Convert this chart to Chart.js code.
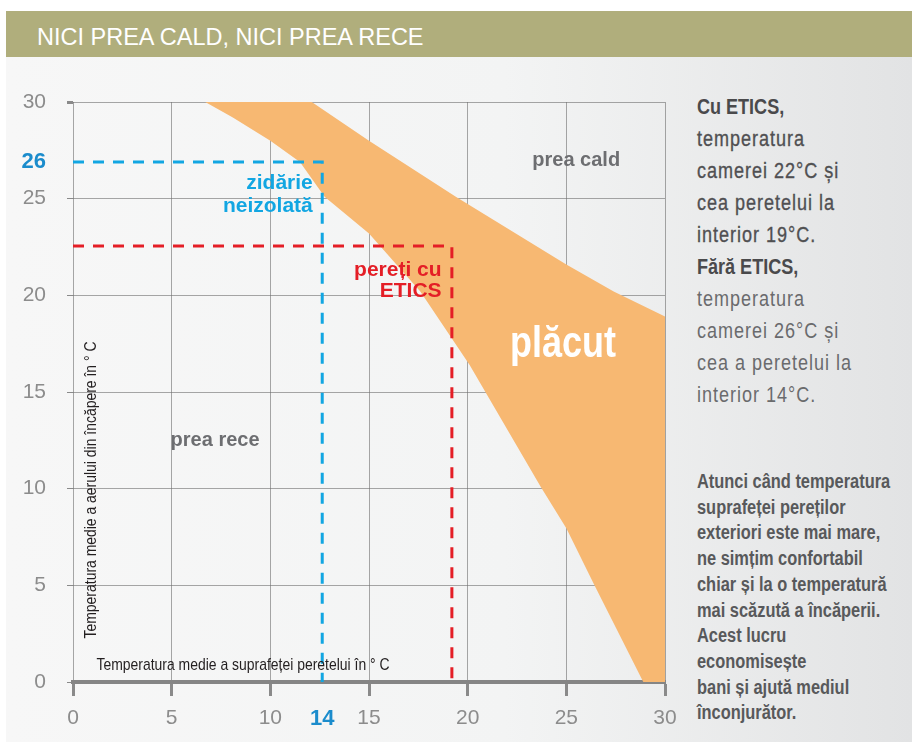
<!DOCTYPE html>
<html>
<head>
<meta charset="utf-8">
<script src="https://cdn.jsdelivr.net/npm/chart.js"></script>
<style>
  body { margin: 0; width: 912px; height: 742px; background: #fff; position: relative; overflow: hidden;
         font-family: "Liberation Sans", sans-serif; }
  #panel { position: absolute; left: 6px; top: 57px; right: 0; bottom: 0;
           background: linear-gradient(to right, #f7f7f7 0%, #f3f4f4 55%, #e2e3e4 100%); }
  #header { position: absolute; left: 6px; top: 11px; right: 0; height: 46px; background: #b0ae7c; }
  #title { position: absolute; left: 37px; top: 14px; color: #fff;
           font-size: 23.5px; line-height: 46px; white-space: nowrap; }
  #chartBox { position: absolute; left: 0; top: 0; width: 690px; height: 742px; }
  .side { position: absolute; left: 697px; white-space: nowrap; transform: scaleX(0.82); transform-origin: left top; }
  #p1 { top: 91px; line-height: 32px; font-size: 22px; }
  #p1 b { color: #4a4a4c; }
  #p1 .mid { color: #505052; letter-spacing: 1.2px; -webkit-text-stroke: 0.35px #505052; }
  #p1 .reg { color: #6a6b6d; letter-spacing: 1.2px; }
  #p2 { top: 469px; line-height: 25.7px; font-size: 20px; font-weight: bold; color: #58595b; }
</style>
</head>
<body>
<div id="panel"></div>
<div id="header"></div>
<div id="title">NICI PREA CALD, NICI PREA RECE</div>
<div id="chartBox"><canvas id="chart" width="690" height="742"></canvas></div>
<div class="side" id="p1">
  <b>Cu ETICS,</b><br>
  <span class="mid">temperatura<br>camerei 22°C și<br>cea peretelui la<br>interior 19°C.</span><br>
  <b>Fără ETICS,</b><br>
  <span class="reg">temperatura<br>camerei 26°C și<br>cea a peretelui la<br>interior 14°C.</span>
</div>
<div class="side" id="p2">
  Atunci când temperatura<br>suprafeței pereților<br>exteriori este mai mare,<br>ne simțim confortabil<br>chiar și la o temperatură<br>mai scăzută a încăperii.<br>Acest lucru<br>economisește<br>bani și ajută mediul<br>înconjurător.
</div>
<script>
// axes
const xTicks = [0, 5, 10, 15, 20, 25, 30];
const yTicks = [0, 5, 10, 15, 20, 25, 30];
const xMarkTick = 12.63, xMarkLabel = "14";
const yMarkTick = 26.9, yMarkLabel = "26";

// comfort band: upper edge (incl. bottom-right corner) and lower edge
const upperEdgeX = [12.1, 15, 19.4, 25, 27.4, 30, 30];
const upperEdgeY = [30, 28.0, 25.1, 21.6, 20.2, 18.9, 0];
const lowerEdgeX = [6.7, 8.1, 10, 11.5, 12.75, 15, 17.6, 20.1, 23.7, 25, 26.4, 28.9];
const lowerEdgeY = [30, 29.2, 28.0, 26.9, 25.1, 23.2, 20.2, 16.4, 10.1, 7.95, 5.05, 0];

// dashed guides
const plainWallX = [0, 12.63, 12.63];
const plainWallY = [26.9, 26.9, 0];
const eticsWallX = [0, 19.2, 19.2];
const eticsWallY = [22.55, 22.55, 0];

const BLUE = "#12a6e2", RED = "#e41e26", MARK = "#1b8ccc";
const SANS = '"Liberation Sans", sans-serif';

function toPoints(xs, ys) {
  return xs.map((x, i) => ({ x: x, y: ys[i] }));
}

var bandPoints = toPoints(upperEdgeX, upperEdgeY)
  .concat(toPoints(lowerEdgeX, lowerEdgeY).reverse());
bandPoints.push(bandPoints[0]);

function isMark(ctx, v) {
  return ctx.tick && ctx.tick.value === v;
}

const notes = {
  id: "notes",
  afterDraw(chart) {
    const { ctx, scales: { x, y } } = chart;
    // sx squeezes the text horizontally (no narrow font installed)
    function put(text, vx, vy, font, color, align, sx, rot) {
      ctx.save();
      ctx.translate(x.getPixelForValue(vx), y.getPixelForValue(vy));
      if (rot) ctx.rotate(rot);
      ctx.scale(sx || 1, 1);
      ctx.font = font;
      ctx.fillStyle = color;
      ctx.textAlign = align || "center";
      ctx.textBaseline = "middle";
      ctx.fillText(text, 0, 0);
      ctx.restore();
    }
    put("prea cald", 25.5, 27.0, "bold 20px " + SANS, "#6d6e71");
    put("prea rece", 7.2, 12.5, "bold 20px " + SANS, "#6d6e71");
    put("plăcut", 24.83, 17.43, "bold 45px " + SANS, "#ffffff", "center", 0.8);
    put("zidărie", 12.15, 25.8, "bold 21px " + SANS, BLUE, "right");
    put("neizolată", 12.15, 24.6, "bold 21px " + SANS, BLUE, "right");
    put("pereți cu", 18.68, 21.3, "bold 21px " + SANS, RED, "right");
    put("ETICS", 18.68, 20.2, "bold 21px " + SANS, RED, "right");
    put("Temperatura medie a suprafeței peretelui în ° C", 1.19, 0.88, "17px " + SANS, "#231f20", "left", 0.82);
    put("Temperatura medie a aerului din încăpere în ° C", 0.94, 9.93, "17px " + SANS, "#231f20", "center", 0.82, -Math.PI / 2);
  }
};

new Chart("chart", {
  type: "scatter",
  data: {
    datasets: [
      {
        data: toPoints(plainWallX, plainWallY),
        showLine: true,
        borderColor: BLUE,
        borderWidth: 3,
        borderDash: [11, 9],
        pointRadius: 0,
        fill: false,
      },
      {
        data: toPoints(eticsWallX, eticsWallY),
        showLine: true,
        borderColor: RED,
        borderWidth: 3,
        borderDash: [11, 9],
        pointRadius: 0,
        fill: false,
      },
      {
        data: bandPoints,
        showLine: true,
        borderWidth: 0,
        borderColor: "rgba(0,0,0,0)",
        backgroundColor: "#f7b872",
        pointRadius: 0,
        fill: "shape",
        order: 10,
      },
    ],
  },
  options: {
    responsive: false,
    animation: false,
    devicePixelRatio: 1,
    layout: { padding: { top: 102, left: 0, right: 25, bottom: 0 } },
    plugins: { legend: { display: false }, tooltip: { enabled: false } },
    scales: {
      x: {
        type: "linear",
        min: 0,
        max: 30,
        z: 1,
        afterBuildTicks: function (scale) {
          scale.ticks = xTicks.concat([xMarkTick]).sort((a, b) => a - b).map((v) => ({ value: v }));
        },
        afterFit: function (scale) { scale.height = 60; },
        border: { display: true, color: "#858585", width: 4 },
        grid: {
          color: (c) => (isMark(c, xMarkTick) ? "rgba(0,0,0,0)" : "rgba(110,110,110,0.6)"),
          lineWidth: 1,
          tickLength: 14,
          tickWidth: 3,
          tickColor: (c) => (isMark(c, xMarkTick) ? "rgba(0,0,0,0)" : "#8a8a8a"),
        },
        ticks: {
          autoSkip: false,
          maxRotation: 0,
          padding: 10,
          callback: (v) => (v === xMarkTick ? xMarkLabel : v),
          color: (c) => (isMark(c, xMarkTick) ? MARK : "#8c8c8c"),
          font: (c) => (isMark(c, xMarkTick)
            ? { family: SANS, size: 22, weight: "bold" }
            : { family: SANS, size: 21, weight: "normal" }),
        },
      },
      y: {
        type: "linear",
        min: 0,
        max: 30,
        z: 1,
        afterBuildTicks: function (scale) {
          scale.ticks = yTicks.concat([yMarkTick]).sort((a, b) => a - b).map((v) => ({ value: v }));
        },
        afterFit: function (scale) { scale.width = 73; },
        border: { display: false },
        grid: {
          color: (c) => (isMark(c, yMarkTick) ? "rgba(0,0,0,0)" : "rgba(110,110,110,0.6)"),
          lineWidth: 1,
          tickLength: 6,
          tickWidth: (c) => (c.tick && c.tick.value === 30 ? 3 : 1),
          tickColor: (c) => (isMark(c, yMarkTick) ? "rgba(0,0,0,0)" : "#8a8a8a"),
        },
        ticks: {
          autoSkip: false,
          padding: 21,
          callback: (v) => (v === yMarkTick ? yMarkLabel : v),
          color: (c) => (isMark(c, yMarkTick) ? MARK : "#8c8c8c"),
          font: (c) => (isMark(c, yMarkTick)
            ? { family: SANS, size: 22, weight: "bold" }
            : { family: SANS, size: 21, weight: "normal" }),
        },
      },
    },
  },
  plugins: [notes],
});
</script>
</body>
</html>
